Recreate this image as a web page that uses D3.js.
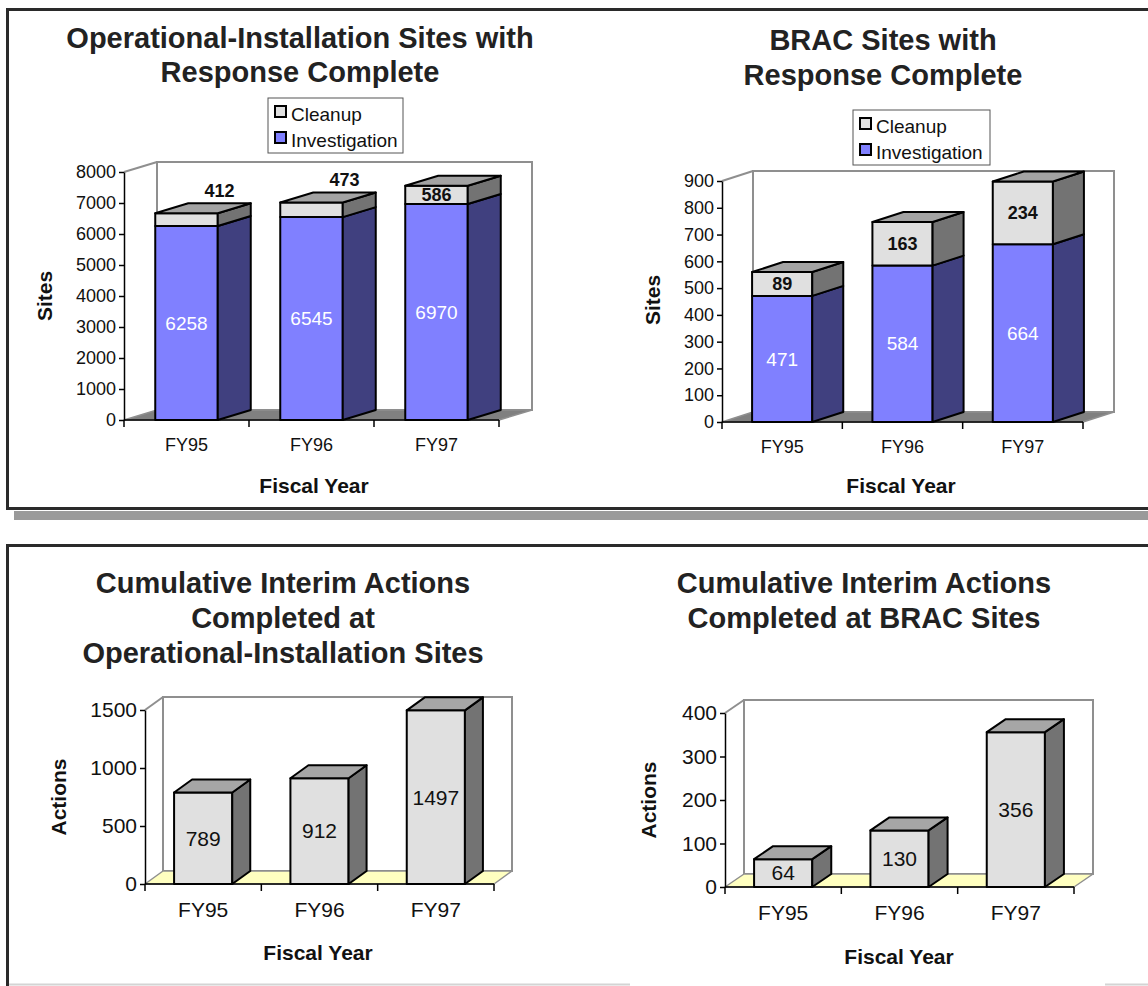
<!DOCTYPE html>
<html>
<head>
<meta charset="utf-8">
<script src="https://cdn.jsdelivr.net/npm/d3@7"></script>
<style>
  html, body { margin: 0; padding: 0; background: #fff; }
  svg { display: block; }
</style>
</head>
<body>
<svg id="chart" width="1148" height="986"></svg>
<script>
// ---- data ----
const years = ["FY95", "FY96", "FY97"];
const opInvestigation = [6258, 6545, 6970];
const opCleanup = [412, 473, 586];
const bracInvestigation = [471, 584, 664];
const bracCleanup = [89, 163, 234];
const opInterimActions = [789, 912, 1497];
const bracInterimActions = [64, 130, 356];
const opSiteTicks = [0, 1000, 2000, 3000, 4000, 5000, 6000, 7000, 8000];
const bracSiteTicks = [0, 100, 200, 300, 400, 500, 600, 700, 800, 900];
const opActionTicks = [0, 500, 1000, 1500];
const bracActionTicks = [0, 100, 200, 300, 400];

const FONT = '"Liberation Sans", Arial, Helvetica, sans-serif';
const svg = d3.select("#chart");

// ---- panel frames ----
svg.append("rect").attr("x", 14).attr("y", 511).attr("width", 1148).attr("height", 9).attr("fill", "#9a9a9a");
svg.append("rect").attr("x", 7.5).attr("y", 9.5).attr("width", 1160).attr("height", 499)
  .attr("fill", "#fff").attr("stroke", "#2a2a2a").attr("stroke-width", 3);
svg.append("rect").attr("x", 7.5).attr("y", 545.5).attr("width", 1160).attr("height", 480)
  .attr("fill", "#fff").attr("stroke", "#2a2a2a").attr("stroke-width", 3);
svg.append("line").attr("x1", 9).attr("x2", 630).attr("y1", 984.5).attr("y2", 984.5)
  .attr("stroke", "#d4d4d4").attr("stroke-width", 2);
svg.append("line").attr("x1", 1105).attr("x2", 1148).attr("y1", 984.5).attr("y2", 984.5)
  .attr("stroke", "#d4d4d4").attr("stroke-width", 2);

// ---- 3-D column chart ----
function drawChart(cfg) {
  const g = svg.append("g");
  const { left, bottom, top, width } = cfg.frame;
  const [dx, dy] = cfg.frame.depth;
  const right = left + width;
  const wallStroke = "#8f8f8f";

  const x = d3.scaleBand().domain(cfg.categories).range([left, right])
    .paddingInner(0.5).paddingOuter(0.25);
  const y = d3.scaleLinear().domain([0, cfg.max]).range([bottom, top]);
  const bw = x.bandwidth();

  // title
  g.append("text")
    .attr("font-family", FONT).attr("font-weight", "bold").attr("font-size", 29)
    .attr("fill", "#222").attr("text-anchor", "middle")
    .selectAll("tspan").data(cfg.title.lines).join("tspan")
    .attr("x", cfg.title.x)
    .attr("y", (d, i) => cfg.title.y + i * cfg.title.gap)
    .attr("dy", "0.35em")
    .text(d => d);

  // side wall, back wall, floor
  g.append("path")
    .attr("d", `M${left},${bottom}V${top}L${left + dx},${top + dy}V${bottom + dy}Z`)
    .attr("fill", "#fff");
  g.append("rect")
    .attr("x", left + dx).attr("y", top + dy)
    .attr("width", width).attr("height", bottom - top)
    .attr("fill", "#fff").attr("stroke", wallStroke).attr("stroke-width", 2);
  g.append("line")
    .attr("x1", left).attr("y1", top).attr("x2", left + dx).attr("y2", top + dy)
    .attr("stroke", wallStroke).attr("stroke-width", 2);
  g.append("path")
    .attr("d", `M${left},${bottom}L${left + dx},${bottom + dy}H${right + dx}L${right},${bottom}Z`)
    .attr("fill", cfg.floor).attr("stroke", wallStroke).attr("stroke-width", 1.5)
    .attr("stroke-linejoin", "round");

  // stacked segments
  const rows = cfg.categories.map((c, i) => {
    const r = { cat: c };
    cfg.series.forEach(s => { r[s.key] = s.values[i]; });
    return r;
  });
  const stacked = d3.stack().keys(cfg.series.map(s => s.key))(rows);
  const segments = [];
  cfg.categories.forEach((c, ci) => {
    stacked.forEach((layer, li) => {
      segments.push({
        cat: c, series: cfg.series[li], value: layer[ci].data[cfg.series[li].key],
        lo: layer[ci][0], hi: layer[ci][1], isTop: li === stacked.length - 1
      });
    });
  });

  const seg = g.selectAll("g.seg").data(segments).join("g").attr("class", "seg");
  seg.append("rect")
    .attr("x", d => x(d.cat)).attr("y", d => y(d.hi))
    .attr("width", bw).attr("height", d => y(d.lo) - y(d.hi))
    .attr("fill", d => d.series.front)
    .attr("stroke", "#000").attr("stroke-width", 2).attr("stroke-linejoin", "round");
  seg.append("path")
    .attr("d", d => {
      const xr = x(d.cat) + bw, y0 = y(d.lo), y1 = y(d.hi);
      return `M${xr},${y0}L${xr + dx},${y0 + dy}V${y1 + dy}L${xr},${y1}Z`;
    })
    .attr("fill", d => d.series.side)
    .attr("stroke", "#000").attr("stroke-width", 2).attr("stroke-linejoin", "round");
  seg.filter(d => d.isTop).append("path")
    .attr("d", d => {
      const xl = x(d.cat), y1 = y(d.hi);
      return `M${xl},${y1}L${xl + dx},${y1 + dy}H${xl + bw + dx}L${xl + bw},${y1}Z`;
    })
    .attr("fill", d => d.series.top)
    .attr("stroke", "#000").attr("stroke-width", 2).attr("stroke-linejoin", "round");

  // value labels (short segments carry their label above the column)
  g.selectAll("text.val").data(segments).join("text").attr("class", "val")
    .attr("font-family", FONT)
    .attr("font-size", d => d.series.label.size)
    .attr("font-weight", d => d.series.label.weight)
    .attr("fill", d => d.series.label.color)
    .attr("text-anchor", "middle").attr("dy", "0.35em")
    .attr("x", d => {
      const h = y(d.lo) - y(d.hi);
      return x(d.cat) + bw / 2 + (h < d.series.label.minHeight ? dx : 0);
    })
    .attr("y", d => {
      const h = y(d.lo) - y(d.hi);
      return h < d.series.label.minHeight ? y(d.hi) + dy - 13 : (y(d.lo) + y(d.hi)) / 2;
    })
    .text(d => d.value);

  // value axis
  const ya = g.append("g").attr("transform", `translate(${left},0)`)
    .call(d3.axisLeft(y).tickValues(cfg.ticks).tickFormat(d3.format("d"))
      .tickSize(5).tickSizeOuter(0).tickPadding(3));
  ya.select(".domain").attr("stroke", "#000").attr("stroke-width", 1.5);
  ya.selectAll(".tick line").attr("stroke", "#000").attr("stroke-width", 1.5);
  ya.selectAll(".tick text").attr("font-family", FONT).attr("font-size", cfg.tickSize).attr("fill", "#111");

  // category axis
  g.append("line").attr("x1", left).attr("x2", right).attr("y1", bottom).attr("y2", bottom)
    .attr("stroke", "#000").attr("stroke-width", 1.5);
  const bounds = d3.range(cfg.categories.length + 1).map(i => left + i * x.step());
  g.selectAll("line.xtick").data(bounds).join("line").attr("class", "xtick")
    .attr("x1", d => d).attr("x2", d => d).attr("y1", bottom).attr("y2", bottom + 7)
    .attr("stroke", "#000").attr("stroke-width", 1.5);
  g.selectAll("text.cat").data(cfg.categories).join("text").attr("class", "cat")
    .attr("font-family", FONT).attr("font-size", cfg.catSize).attr("fill", "#111")
    .attr("text-anchor", "middle").attr("dy", "0.35em")
    .attr("x", d => x(d) + bw / 2).attr("y", cfg.catLabelY)
    .text(d => d);

  // axis titles
  g.append("text").attr("font-family", FONT).attr("font-weight", "bold").attr("font-size", 21)
    .attr("fill", "#111").attr("text-anchor", "middle").attr("dy", "0.35em")
    .attr("x", cfg.xTitle.x).attr("y", cfg.xTitle.y).text(cfg.xTitle.text);
  g.append("text").attr("font-family", FONT).attr("font-weight", "bold").attr("font-size", 21)
    .attr("fill", "#111").attr("text-anchor", "middle").attr("dy", "0.35em")
    .attr("transform", `translate(${cfg.yTitle.x},${cfg.yTitle.y}) rotate(-90)`)
    .text(cfg.yTitle.text);

  // legend
  if (cfg.legend) {
    const L = cfg.legend;
    const lg = g.append("g").attr("transform", `translate(${L.x},${L.y})`);
    lg.append("rect").attr("width", L.w).attr("height", L.h)
      .attr("fill", "#fff").attr("stroke", "#555").attr("stroke-width", 1);
    const items = cfg.series.slice().reverse();
    const it = lg.selectAll("g.item").data(items).join("g").attr("class", "item")
      .attr("transform", (d, i) => `translate(7,${13 + i * 26})`);
    it.append("rect").attr("x", 0).attr("y", -5).attr("width", 11).attr("height", 11)
      .attr("fill", d => d.front).attr("stroke", "#000").attr("stroke-width", 2);
    it.append("text").attr("x", 16).attr("y", 3).attr("dy", "0.35em")
      .attr("font-family", FONT).attr("font-size", 19).attr("fill", "#111")
      .text(d => d.key);
  }
}

const investigationStyle = { front: "#8080ff", side: "#40407f", top: "#6060bf",
  label: { color: "#fff", weight: "normal", size: 19, minHeight: 0 } };
const cleanupStyle = { front: "#e0e0e0", side: "#737373", top: "#a3a3a3",
  label: { color: "#111", weight: "bold", size: 18, minHeight: 16 } };
const actionStyle = { front: "#e0e0e0", side: "#737373", top: "#a6a6a6",
  label: { color: "#111", weight: "normal", size: 21, minHeight: 0 } };

drawChart({
  categories: years,
  series: [
    Object.assign({ key: "Investigation", values: opInvestigation }, investigationStyle),
    Object.assign({ key: "Cleanup", values: opCleanup }, cleanupStyle)
  ],
  max: 8000, ticks: opSiteTicks,
  frame: { left: 124, bottom: 420, top: 172, width: 375, depth: [33, -10] },
  floor: "#808080", tickSize: 18, catSize: 18, catLabelY: 445,
  title: { x: 300, y: 38, gap: 34, lines: ["Operational-Installation Sites with", "Response Complete"] },
  xTitle: { x: 314, y: 486, text: "Fiscal Year" },
  yTitle: { x: 45, y: 296, text: "Sites" },
  legend: { x: 268, y: 98, w: 135, h: 55 }
});

drawChart({
  categories: years,
  series: [
    Object.assign({ key: "Investigation", values: bracInvestigation }, investigationStyle),
    Object.assign({ key: "Cleanup", values: bracCleanup }, cleanupStyle)
  ],
  max: 900, ticks: bracSiteTicks,
  frame: { left: 722, bottom: 422, top: 181, width: 361, depth: [31, -10] },
  floor: "#808080", tickSize: 18, catSize: 18, catLabelY: 447,
  title: { x: 883, y: 40, gap: 35, lines: ["BRAC Sites with", "Response Complete"] },
  xTitle: { x: 901, y: 486, text: "Fiscal Year" },
  yTitle: { x: 653, y: 300, text: "Sites" },
  legend: { x: 853, y: 110, w: 137, h: 55 }
});

drawChart({
  categories: years,
  series: [Object.assign({ key: "Actions", values: opInterimActions }, actionStyle)],
  max: 1500, ticks: opActionTicks,
  frame: { left: 145, bottom: 884, top: 710, width: 349, depth: [18, -13] },
  floor: "#ffffc0", tickSize: 21, catSize: 21, catLabelY: 910,
  title: { x: 283, y: 583, gap: 35, lines: ["Cumulative Interim Actions", "Completed at", "Operational-Installation Sites"] },
  xTitle: { x: 318, y: 953, text: "Fiscal Year" },
  yTitle: { x: 59, y: 797, text: "Actions" }
});

drawChart({
  categories: years,
  series: [Object.assign({ key: "Actions", values: bracInterimActions }, actionStyle)],
  max: 400, ticks: bracActionTicks,
  frame: { left: 725, bottom: 887, top: 713, width: 349, depth: [19, -13] },
  floor: "#ffffc0", tickSize: 21, catSize: 21, catLabelY: 913,
  title: { x: 864, y: 583, gap: 35, lines: ["Cumulative Interim Actions", "Completed at BRAC Sites"] },
  xTitle: { x: 899, y: 957, text: "Fiscal Year" },
  yTitle: { x: 649, y: 800, text: "Actions" }
});
</script>
</body>
</html>
